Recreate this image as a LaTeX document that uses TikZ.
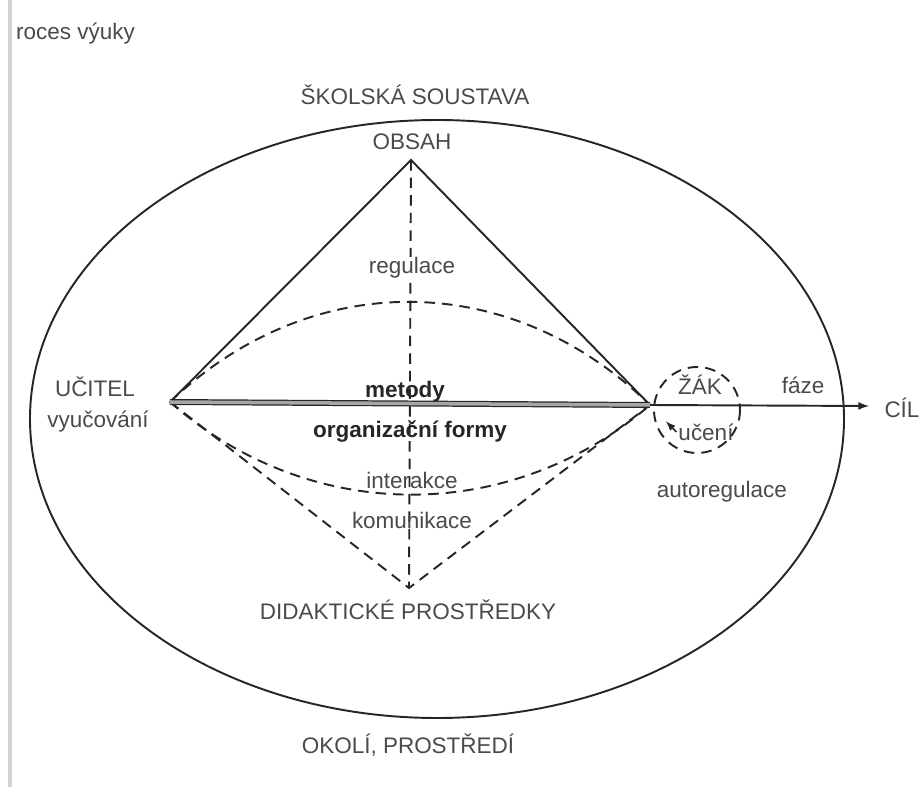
\documentclass[tikz,border=0pt]{standalone}
\usepackage{fontspec}
\setmainfont{Liberation Sans}
\usetikzlibrary{positioning}

\definecolor{textgray}{HTML}{4A4A4A}
\definecolor{linegray}{HTML}{262626}

\tikzset{
  label/.style={font=\fontsize{12.8}{14}\selectfont, text=textgray, inner sep=1pt},
  boldlabel/.style={label, font=\fontsize{12.8}{14}\selectfont\bfseries, text=linegray},
  solid line/.style={draw=linegray, line width=1.1pt},
  dash line/.style={draw=linegray, line width=1.1pt, dash pattern=on 6pt off 4pt}
}

\begin{document}
\begin{tikzpicture}[x=0.02cm,y=-0.02cm]
	\tikzset{>=latex}
  \useasboundingbox (0,0) rectangle (924,787);

  % scan edge
  \draw[gray!35, line width=2pt] (10,0) -- (10,787);
  \node[label, anchor=west] (titulek) at (14,34) {roces výuky};

  % outer ellipse
  \draw[solid line] (437,419) ellipse (407 and 299);
  \node[label] (soustava) at (415,95) {ŠKOLSKÁ SOUSTAVA};
  \node[label] (okoli) at (408,745) {OKOLÍ, PROSTŘEDÍ};

  % vertices
  \coordinate (obsah) at (411,160);
  \coordinate (ucitel) at (170,402);
  \coordinate (zak) at (650,405);
  \coordinate (prostredky) at (409,588);
  \coordinate (cil) at (869,406);

  \node[label] (obsahtext) at (412,142) {OBSAH};
  \node[label] (uciteltext) at (95,387) {UČITEL};
  \node[label] (vyucovani) at (98,422) {vyučování};
  \node[label] (zaktext) at (700,385) {ŽÁK};
  \node[label] (uceni) at (706,432) {učení};
  \node[label] (autoregulace) at (722,492) {autoregulace};
  \node[label] (faze) at (803,385) {fáze};
  \node[label] (ciltext) at (902,408) {CÍL};
  \node[label] (prostredkytext) at (408,610) {DIDAKTICKÉ PROSTŘEDKY};

  % triangle
  \draw[solid line] (ucitel) -- (obsah) -- (zak);
  \draw[dash line] (obsah) -- (prostredky);
  \draw[dash line] (ucitel) -- (prostredky) -- (zak);

  % arcs
  \draw[dash line] (ucitel) .. controls (310,268) and (510,268) .. (zak);
  \draw[dash line] (ucitel) .. controls (310,525) and (510,525) .. (zak);

  % main axis
  \draw[draw=linegray, line width=0.7pt, double=gray!70, double distance=2pt] (ucitel) -- (zak);
  \draw[->, draw=linegray, line width=1.1pt] (zak) -- (cil);

  \node[label, fill=white, inner sep=0.5pt] (regulace) at (412,268) {regulace};
  \node[boldlabel] (metody) at (405,392) {metody};
  \node[boldlabel] (formy) at (410,431) {organizační formy};
  \node[label] (interakce) at (412,480) {interakce};
  \node[label] (komunikace) at (412,520) {komunikace};

  % learner
  \draw[dash line] (697,410) circle (43);
  \draw[->, draw=linegray, line width=0.9pt, shorten >=13pt] (uceni.west) -- (zak);

\end{tikzpicture}
\end{document}
